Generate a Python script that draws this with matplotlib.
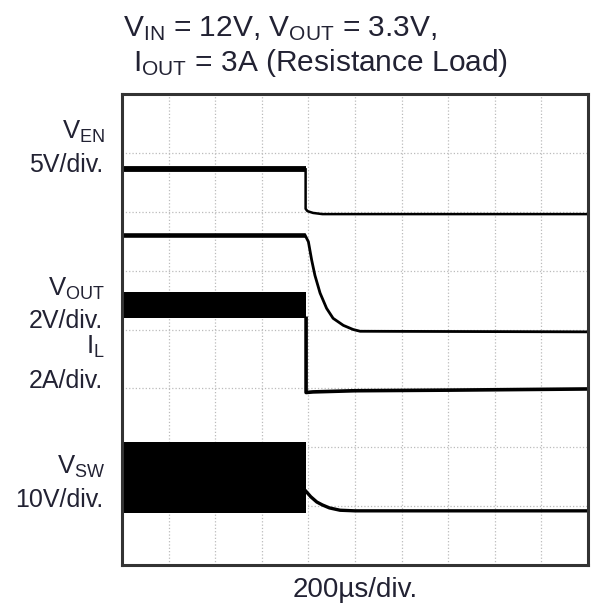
import numpy as np
import matplotlib
matplotlib.use('Agg')
import matplotlib.pyplot as plt

plt.rcParams['font.family'] = 'Liberation Sans'
plt.rcParams['mathtext.fontset'] = 'custom'
plt.rcParams['mathtext.rm'] = 'Liberation Sans'
plt.rcParams['mathtext.it'] = 'Liberation Sans:italic'

# scope traces, x in time divisions, y in vertical divisions (0..8)
en_hi_t = [0, 3.94]
en_hi_v = [6.72, 6.72]
en_lo_t = [3.94, 3.94, 3.98, 4.1, 4.3, 10]
en_lo_v = [6.72, 6.05, 6.01, 5.98, 5.96, 5.96]

out_hi_t = [0, 3.93]
out_hi_v = [5.60, 5.60]
out_lo_t = [3.93, 4.0, 4.07, 4.14, 4.25, 4.39, 4.53, 4.75, 4.96, 5.11, 10]
out_lo_v = [5.60, 5.49, 5.18, 4.92, 4.62, 4.36, 4.19, 4.07, 4.00, 3.97, 3.96]

il_band_t = [0, 3.95]
il_band_top = [4.64, 4.64]
il_band_bot = [4.19, 4.19]
il_lo_t = [3.95, 3.95, 4.1, 5.0, 7.0, 10]
il_lo_v = [4.19, 2.93, 2.94, 2.96, 2.97, 2.99]

sw_band_t = [0, 3.95]
sw_band_top = [2.09, 2.09]
sw_band_bot = [0.88, 0.88]
sw_lo_t = [3.95, 4.05, 4.18, 4.3, 4.45, 4.68, 5.0, 10]
sw_lo_v = [1.25, 1.16, 1.07, 1.02, 0.97, 0.93, 0.92, 0.92]

labels = [('V$_{\\mathrm{EN}}$', '5V/div.', 139, 172),
          ('V$_{\\mathrm{OUT}}$', '2V/div.', 296, 328),
          ('I$_{\\mathrm{L}}$', '2A/div.', 354, 388),
          ('V$_{\\mathrm{SW}}$', '10V/div.', 474, 507)]

W, H = 593, 609
fig = plt.figure(figsize=(W / 100, H / 100), dpi=100)
ax = fig.add_axes([122 / W, 44 / H, 466 / W, 471 / H])
ax.set_xlim(0, 10)
ax.set_ylim(0, 8)
ax.set_xticks(np.arange(11))
ax.set_yticks(np.arange(9))
ax.tick_params(length=0, labelbottom=False, labelleft=False)
ax.set_axisbelow(True)
ax.grid(True, ls=':', color='#bbbbbb', lw=0.9)
for s in ax.spines.values():
    s.set_linewidth(2.2)
    s.set_color('#333333')

k = 'black'
ax.plot(en_hi_t, en_hi_v, color=k, lw=4.2, solid_capstyle='butt')
ax.plot(en_lo_t, en_lo_v, color=k, lw=1.8)
ax.plot(out_hi_t, out_hi_v, color=k, lw=3.3, solid_capstyle='butt')
ax.plot(out_lo_t, out_lo_v, color=k, lw=2.0)
ax.fill_between(il_band_t, il_band_bot, il_band_top, color=k, lw=0, zorder=2)
ax.plot(il_lo_t, il_lo_v, color=k, lw=2.6)
ax.fill_between(sw_band_t, sw_band_bot, sw_band_top, color=k, lw=0, zorder=2)
ax.plot(sw_lo_t, sw_lo_v, color=k, lw=2.4)

tc = '#222233'
fig.text(123 / W, 1 - 36 / H, 'V$_{\\mathrm{IN}}$ = 12V, V$_{\\mathrm{OUT}}$ = 3.3V,',
         fontsize=21.5, color=tc, ha='left', va='baseline')
fig.text(133 / W, 1 - 71 / H, 'I$_{\\mathrm{OUT}}$ = 3A (Resistance Load)',
         fontsize=21.5, color=tc, ha='left', va='baseline')
for name, scale, yn, ys in labels:
    fig.text(105 / W, 1 - yn / H, name, fontsize=18.5, color=tc, ha='right', va='baseline')
    fig.text(103 / W, 1 - ys / H, scale, fontsize=18, color=tc, ha='right', va='baseline')
fig.text(355 / W, 1 - 597 / H, '200\u00b5s/div.', fontsize=20, color=tc,
         ha='center', va='baseline')

fig.savefig('out.png', dpi=100)
